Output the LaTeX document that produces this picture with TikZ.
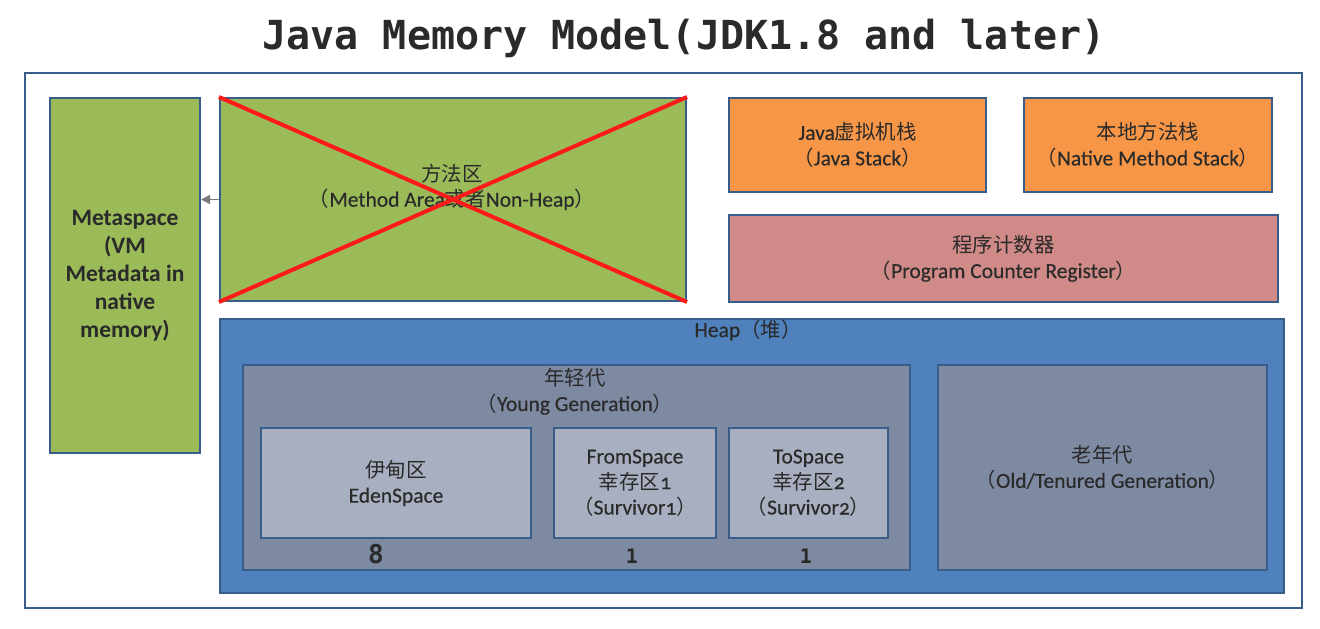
\documentclass[tikz,border=0pt]{standalone}
\usepackage{fontspec}
\setmainfont{Carlito}[UprightFeatures={FakeBold=0.3}]
\newfontfamily\zh{Noto Sans CJK SC}[Scale=0.95]
\newfontfamily\monob{DejaVu Sans Mono}[BoldFont={DejaVu Sans Mono Bold}]
\newfontfamily\osf{Carlito}[Numbers=OldStyle, FakeBold=0.3]
\usetikzlibrary{arrows.meta}
\definecolor{frame}{HTML}{385D8A}
\definecolor{grn}{HTML}{9BBB59}
\definecolor{org}{HTML}{F79646}
\definecolor{pnk}{HTML}{D08A88}
\definecolor{heapblue}{HTML}{4F81BD}
\definecolor{gen}{HTML}{7E8AA2}
\definecolor{inner}{HTML}{A8AFC0}
\definecolor{txt}{HTML}{2A2A2A}
\definecolor{xred}{HTML}{FF1A1A}
\definecolor{arr}{HTML}{7A7A7A}
\tikzset{
  box/.style={draw=frame, line width=2pt, anchor=north west, inner sep=0pt, text=txt, align=center,
    font=\fontsize{21.5}{25.5}\selectfont},
  lbl/.style={text=txt, align=center, inner sep=0pt, font=\fontsize{21.5}{25.5}\selectfont},
  num/.style={text=txt, inner sep=0pt, font=\fontsize{20}{24}\selectfont\monob\bfseries},
}
\begin{document}
\begin{tikzpicture}[x=1pt,y=-1pt]
\useasboundingbox (0,0) rectangle (1320,629);
\node[text=txt, font=\fontsize{40}{48}\selectfont\monob\bfseries, inner sep=0pt] (title) at (684,38) {Java Memory Model(JDK1.8 and later)};
\node[draw=frame, line width=2pt, anchor=north west, minimum width=1277, minimum height=535, inner sep=0pt] (outer) at (24,72) {};
% Metaspace
\node[box, fill=grn, minimum width=150, minimum height=355, font=\fontsize{23.5}{28}\selectfont\bfseries] (meta) at (49,97) {Metaspace\\(VM\\Metadata in\\native\\memory)};
% Method area
\node[box, fill=grn, minimum width=466, minimum height=203] (method) at (219,97) {};
\node[lbl] (methodtxt) at (452,187) {{\zh 方法区}\\{\zh （}Method Area{\zh 或者}Non-Heap{\zh ）}};
\draw[xred, line width=4pt] (method.north west) -- (method.south east);
\draw[xred, line width=4pt] (method.south west) -- (method.north east);
\draw[draw=arr, line width=1.5pt, -{Triangle[length=9pt,width=9pt]}] (method.west) -- (meta.east |- method.west);
% stacks
\node[box, fill=org, minimum width=257, minimum height=94] (jstack) at (728,97) {Java{\zh 虚拟机栈}\\{\zh （}Java Stack{\zh ）}};
\node[box, fill=org, minimum width=248, minimum height=94] (nstack) at (1023,97) {{\zh 本地方法栈}\\{\zh （}Native Method Stack{\zh ）}};
\node[box, fill=pnk, minimum width=549, minimum height=87] (pc) at (728,214) {{\zh 程序计数器}\\{\zh （}Program Counter Register{\zh ）}};
% heap
\node[box, fill=heapblue, minimum width=1064, minimum height=274] (heap) at (219,318) {};
\node[lbl] (heaptxt) at (748,330) {Heap{\zh （堆）}};
\node[box, fill=gen, minimum width=667, minimum height=205] (young) at (242,364) {};
\node[lbl] (youngtxt) at (575,391.5) {{\zh 年轻代}\\{\zh （}Young Generation{\zh ）}};
\node[box, fill=inner, minimum width=270, minimum height=110] (eden) at (260,427) {{\zh 伊甸区}\\EdenSpace};
\node[box, fill=inner, minimum width=162, minimum height=110] (from) at (553,427) {FromSpace\\{\zh 幸存区}{\osf 1}\\{\zh （}Survivor{\osf 1}{\zh ）}};
\node[box, fill=inner, minimum width=159, minimum height=110] (to) at (728,427) {ToSpace\\{\zh 幸存区}{\osf 2}\\{\zh （}Survivor{\osf 2}{\zh ）}};
\node[box, fill=gen, minimum width=329, minimum height=205] (old) at (937,364) {{\zh 老年代}\\{\zh （}Old/Tenured Generation{\zh ）}};
\node[num, font=\fontsize{26}{30}\selectfont\monob\bfseries] (n8) at (376,554) {8};
\node[num] (n1a) at (632,556) {1};
\node[num] (n1b) at (806,556) {1};
\end{tikzpicture}
\end{document}
